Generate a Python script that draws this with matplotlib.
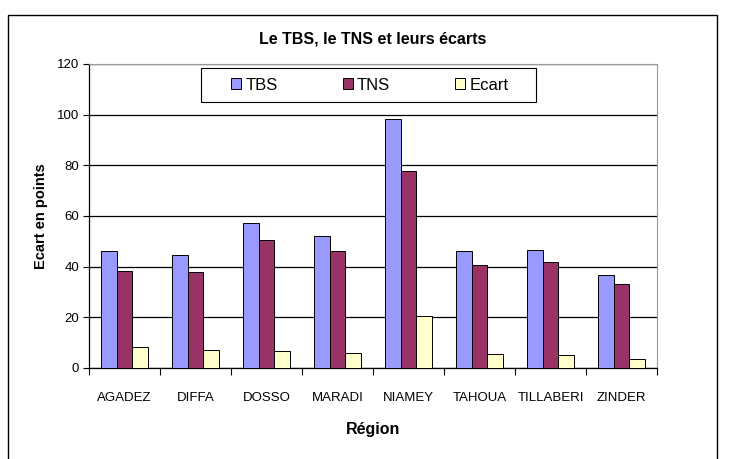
import matplotlib
matplotlib.use("Agg")
import matplotlib.pyplot as plt
import numpy as np
from matplotlib.patches import Rectangle

# data
regions = ["AGADEZ", "DIFFA", "DOSSO", "MARADI", "NIAMEY", "TAHOUA", "TILLABERI", "ZINDER"]
tbs = [46.2, 44.6, 57.1, 52.1, 98.2, 46.2, 46.7, 36.7]
tns = [38.3, 37.8, 50.7, 46.2, 77.9, 40.8, 41.7, 33.3]
ecart = [8.2, 7.1, 6.6, 6.0, 20.4, 5.5, 5.1, 3.6]
y_ticks = [0, 20, 40, 60, 80, 100, 120]

plt.rcParams['font.family'] = ['Liberation Sans', 'DejaVu Sans']

W, H = 731, 459
x0, x1, y0, y1 = 89, 657, 64, 368  # plot area in pixels
fig = plt.figure(figsize=(W / 100, H / 100), dpi=100)
ax = fig.add_axes([x0 / W, 1 - y1 / H, (x1 - x0) / W, (y1 - y0) / H])

x = np.arange(len(regions))
w = 0.222
series = [(tbs, "#9999FF", "TBS"), (tns, "#993366", "TNS"), (ecart, "#FFFFCC", "Ecart")]
for i, (vals, col, lab) in enumerate(series):
    ax.bar(x + (i - 1) * w, vals, w, color=col, edgecolor="black", linewidth=0.7, label=lab, zorder=3)

ax.set_xlim(-0.5, len(regions) - 0.5)
ax.set_ylim(0, 120)
ax.set_yticks(y_ticks)
ax.set_yticklabels([str(v) for v in y_ticks], fontsize=9.5)
ax.yaxis.grid(True, color="black", linewidth=0.9, zorder=0)
ax.tick_params(axis="y", length=4, width=0.8, pad=3)

# category labels centred, tick marks between categories
ax.set_xticks(np.arange(len(regions) + 1) - 0.5)
ax.set_xticklabels([])
ax.set_xticks(x, minor=True)
ax.set_xticklabels(regions, minor=True, fontsize=9.5)
ax.tick_params(axis="x", which="major", length=5, width=0.8, direction="out")
ax.tick_params(axis="x", which="minor", length=0, pad=17)

for side in ["top", "right"]:
    ax.spines[side].set_color("#999999")
ax.spines["left"].set_linewidth(0.9)
ax.spines["bottom"].set_linewidth(0.9)

ax.set_ylabel("Ecart en points", fontsize=10.5, fontweight="bold", labelpad=6.5)
ax.set_xlabel("Région", fontsize=11.5, fontweight="bold", labelpad=13)

# legend box (square frame drawn separately)
lx0, lx1, ly0, ly1 = 201, 536, 68, 102
ax.add_patch(Rectangle(((lx0 - x0) / (x1 - x0), (y1 - ly1) / (y1 - y0)),
                       (lx1 - lx0) / (x1 - x0), (ly1 - ly0) / (y1 - y0),
                       transform=ax.transAxes, facecolor="white", edgecolor="black",
                       linewidth=0.8, zorder=4))
leg = ax.legend(loc="center", bbox_to_anchor=((370 - x0) / (x1 - x0), (y1 - 85) / (y1 - y0)),
                ncol=3, frameon=False, fontsize=12, handlelength=0.6, handleheight=0.66,
                columnspacing=3.9, handletextpad=0.25)
leg.set_zorder(5)

fig.text(0.5 * (x0 + x1) / W, 1 - 39 / H, "Le TBS, le TNS et leurs écarts",
         ha="center", va="center", fontsize=11.5, fontweight="bold")

fig.patches.append(Rectangle((8 / W, -0.05), (717 - 8) / W, 1.05 - 15 / H,
                             transform=fig.transFigure, fill=False, edgecolor="black",
                             linewidth=1.0))

fig.savefig("out.png", dpi=100)
